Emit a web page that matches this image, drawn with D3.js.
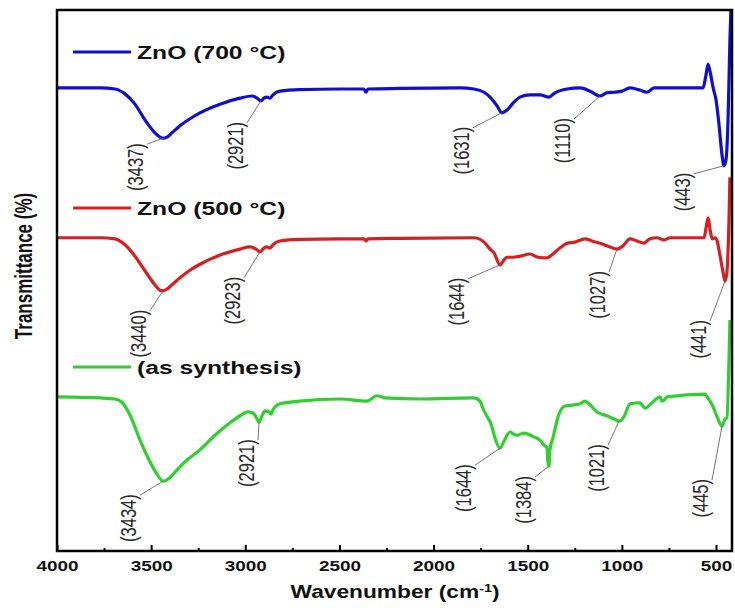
<!DOCTYPE html>
<html>
<head>
<meta charset="utf-8">
<script src="https://cdn.jsdelivr.net/npm/d3@7"></script>
<style>
  body { margin: 0; background: #fff; }
  svg { display: block; }
</style>
</head>
<body>
<svg id="chart" width="735" height="608"></svg>
<script>
// FTIR spectra, [wavenumber (cm-1), transmittance (offset, a.u.)]
var zno700 = [
  [4000, 85.6], [3772, 85.6], [3692, 85.4], [3639, 84.5], [3586, 82.6], [3533, 79.7],
  [3480, 77.3], [3453, 76.5], [3437, 76.3], [3416, 76.5], [3389, 77.3], [3347, 78.6],
  [3294, 79.9], [3241, 81.0], [3134, 82.6], [3028, 83.7], [2964, 84.1], [2938, 83.7],
  [2917, 83.2], [2901, 83.7], [2885, 83.9], [2869, 83.7], [2853, 84.3], [2816, 85.0],
  [2710, 85.3], [2497, 85.4], [2370, 85.4], [2359, 84.8], [2349, 85.4], [2178, 85.5],
  [1860, 85.6], [1785, 85.4], [1732, 84.8], [1700, 83.9], [1663, 82.3], [1637, 81.0],
  [1610, 81.5], [1578, 82.8], [1541, 83.9], [1488, 84.3], [1435, 84.3], [1387, 83.9],
  [1355, 84.7], [1291, 85.4], [1222, 85.6], [1169, 85.0], [1116, 84.1], [1079, 84.7],
  [1042, 84.8], [999, 85.0], [957, 85.6], [904, 85.2], [867, 84.8], [829, 85.6],
  [691, 85.6], [569, 85.6], [553, 88.0], [542, 90.0], [531, 88.5], [515, 85.6],
  [500, 83.4], [484, 78.8], [468, 73.2], [458, 71.2], [447, 72.3], [436, 79.7],
  [426, 94.5], [418, 103.0]
];

var zno500 = [
  [4000, 57.9], [3772, 57.9], [3692, 57.7], [3639, 56.6], [3586, 54.5], [3533, 51.8],
  [3480, 49.2], [3453, 48.2], [3437, 48.1], [3416, 48.4], [3389, 49.2], [3347, 50.5],
  [3294, 51.9], [3241, 53.0], [3134, 54.7], [3028, 55.8], [2975, 56.2], [2943, 55.8],
  [2922, 55.3], [2901, 56.0], [2885, 56.2], [2869, 56.0], [2853, 56.6], [2816, 57.3],
  [2710, 57.6], [2497, 57.7], [2370, 57.7], [2359, 57.3], [2349, 57.7], [2178, 57.8],
  [1785, 57.9], [1732, 57.1], [1700, 55.8], [1679, 55.1], [1647, 52.9], [1626, 53.8],
  [1610, 54.3], [1578, 54.3], [1541, 54.5], [1488, 54.9], [1446, 54.3], [1398, 54.2],
  [1366, 54.9], [1329, 56.0], [1291, 56.9], [1249, 57.1], [1196, 57.7], [1159, 57.3],
  [1116, 56.9], [1063, 56.2], [1026, 55.8], [994, 56.4], [957, 57.7], [920, 57.3],
  [883, 56.9], [851, 57.7], [813, 57.9], [776, 57.5], [744, 57.9], [563, 57.9],
  [553, 59.7], [542, 61.6], [531, 59.3], [520, 57.7], [505, 57.9], [494, 57.3],
  [479, 54.7], [463, 51.6], [452, 49.9], [442, 51.6], [431, 61.2], [426, 69.1]
];

var asSynth = [
  [4000, 28.5], [3772, 28.3], [3692, 28.1], [3655, 27.5], [3612, 25.1], [3559, 20.5],
  [3506, 16.5], [3469, 14.2], [3437, 12.9], [3410, 13.3], [3373, 14.6], [3320, 16.5],
  [3241, 18.7], [3161, 21.4], [3081, 23.7], [3028, 25.0], [2986, 25.7], [2959, 25.5],
  [2943, 24.8], [2927, 23.8], [2911, 25.0], [2895, 25.9], [2874, 25.7], [2863, 25.3],
  [2853, 26.1], [2816, 27.2], [2710, 27.7], [2497, 28.1], [2354, 27.7], [2301, 28.7],
  [2258, 28.3], [2072, 28.1], [1785, 28.3], [1754, 27.7], [1732, 25.9], [1711, 24.6],
  [1695, 23.5], [1674, 20.9], [1647, 19.0], [1626, 20.3], [1594, 22.0], [1573, 21.6],
  [1557, 21.4], [1520, 21.8], [1467, 21.1], [1435, 20.5], [1408, 19.4], [1398, 19.2],
  [1393, 16.5], [1387, 15.7], [1382, 18.7], [1366, 20.9], [1334, 25.3], [1302, 26.8],
  [1254, 27.0], [1222, 27.2], [1196, 27.7], [1169, 27.0], [1132, 25.7], [1079, 25.0],
  [1042, 24.4], [1015, 24.0], [989, 24.8], [957, 27.2], [904, 27.4], [877, 26.4],
  [840, 27.4], [797, 28.5], [787, 27.7], [776, 27.9], [760, 28.5], [558, 29.0],
  [547, 28.5], [520, 27.0], [494, 24.8], [468, 23.1], [452, 24.4], [442, 24.6],
  [431, 35.3], [426, 42.7]
];

var seriesNames = ["ZnO (700 °C)", "ZnO (500 °C)", "(as synthesis)"];
var seriesColors = ["#1010cc", "#d42020", "#30cf30"];
var seriesData = [zno700, zno500, asSynth];

// band labels per spectrum
var peaks700 = [3437, 2921, 1631, 1110, 443];
var peaks500 = [3440, 2923, 1644, 1027, 441];
var peaksAs = [3434, 2921, 1644, 1384, 1021, 445];

var majorTicks = [4000, 3500, 3000, 2500, 2000, 1500, 1000, 500];
var minorTicks = [3750, 3250, 2750, 2250, 1750, 1250, 750];

// layout: label offset (px) from the band minimum
var labelOffsets = [
  [[-28, 5], [-26, 21], [-41, 14], [-38, 22], [-42, 7]],
  [[-25, 19], [-28, 25], [-44, 13], [-20, 22], [-27, 39]],
  [[-35, 13], [-13, 17], [-37, 16], [-26, 10], [-23, 23], [-22, 53]]
];
var legendY = [52, 208, 367];
var stretch = 1.3; // source figure is horizontally stretched

var svg = d3.select("#chart");
var plotL = 57, plotR = 732, plotT = 10, plotB = 551;

var x = d3.scaleLinear().domain([4000, 415]).range([plotL, plotR]);
var y = d3.scaleLinear().domain([0, 100]).range([plotB, plotT]);

svg.append("defs").append("clipPath").attr("id", "clip")
  .append("rect")
  .attr("x", plotL).attr("y", plotT)
  .attr("width", plotR - plotL).attr("height", plotB - plotT);

var line = d3.line()
  .x(function (d) { return x(d[0]) })
  .y(function (d) { return y(d[1]) })
  .curve(d3.curveMonotoneX);

svg.append("g")
  .attr("clip-path", "url(#clip)")
  .selectAll("path")
  .data(seriesData)
  .enter()
  .append("path")
  .attr("d", line)
  .attr("fill", "none")
  .attr("stroke", function (d, i) { return seriesColors[i] })
  .attr("stroke-width", 3.2)
  .attr("stroke-linejoin", "round");

// band annotations
var peakLists = [peaks700, peaks500, peaksAs];
var notes = [];
peakLists.forEach(function (list, s) {
  list.forEach(function (wn, k) {
    var pts = seriesData[s].filter(function (d) { return Math.abs(d[0] - wn) <= 25 });
    var p = d3.least(pts, function (d) { return d[1] });
    var px = x(p[0]), py = y(p[1]);
    var off = labelOffsets[s][k];
    notes.push({ text: "(" + wn + ")", px: px, py: py, cx: px + off[0], ty: py + off[1] });
  });
});

var ann = svg.append("g");
ann.selectAll("line")
  .data(notes)
  .enter()
  .append("line")
  .attr("x1", function (d) { return d.px })
  .attr("y1", function (d) { return d.py })
  .attr("x2", function (d) { return d.cx + 12 })
  .attr("y2", function (d) { return d.ty + 1 })
  .attr("stroke", "#666")
  .attr("stroke-width", 0.9);

ann.selectAll("text")
  .data(notes)
  .enter()
  .append("text")
  .attr("transform", function (d) {
    return "translate(" + (d.cx + 8) + "," + d.ty + ") rotate(-90) scale(1,1.38)";
  })
  .attr("text-anchor", "end")
  .style("font-family", "'Liberation Sans', Arial, sans-serif")
  .style("font-size", "16.5px")
  .style("fill", "#2a2a2a")
  .text(function (d) { return d.text });

// legend
var leg = svg.append("g")
  .selectAll("g")
  .data(seriesNames)
  .enter()
  .append("g")
  .attr("transform", function (d, i) { return "translate(0," + legendY[i] + ")" });

leg.append("line")
  .attr("x1", 73).attr("x2", 131)
  .attr("stroke", function (d, i) { return seriesColors[i] })
  .attr("stroke-width", 3);

leg.append("text")
  .attr("transform", "translate(137,6.5) scale(" + stretch + ",1)")
  .style("font-family", "'Liberation Sans', Arial, sans-serif")
  .style("font-weight", "bold")
  .style("font-size", "19px")
  .style("fill", "#111")
  .text(function (d) { return d });

// x axis
var xAxis = svg.append("g")
  .attr("transform", "translate(0," + plotB + ")")
  .call(d3.axisBottom(x).tickValues(majorTicks).tickSize(-6).tickFormat(d3.format("d")));
xAxis.select(".domain").remove();
xAxis.selectAll(".tick line").attr("stroke", "#000").attr("stroke-width", 2);
xAxis.selectAll(".tick text")
  .attr("y", 20).attr("dy", 0)
  .attr("transform", "scale(1.35,1)")
  .style("font-family", "'Liberation Sans', Arial, sans-serif")
  .style("font-weight", "bold")
  .style("font-size", "14px")
  .style("fill", "#111");

var xMinor = svg.append("g")
  .attr("transform", "translate(0," + plotB + ")")
  .call(d3.axisBottom(x).tickValues(minorTicks).tickSize(-3).tickFormat(""));
xMinor.select(".domain").remove();
xMinor.selectAll(".tick line").attr("stroke", "#000").attr("stroke-width", 2);

// frame
svg.append("rect")
  .attr("x", plotL).attr("y", plotT)
  .attr("width", plotR - plotL).attr("height", plotB - plotT)
  .attr("fill", "none")
  .attr("stroke", "#000")
  .attr("stroke-width", 2.5);

// axis titles
var xt = svg.append("text")
  .attr("transform", "translate(395,598) scale(" + stretch + ",1)")
  .attr("text-anchor", "middle")
  .style("font-family", "'Liberation Sans', Arial, sans-serif")
  .style("font-weight", "bold")
  .style("font-size", "17.5px")
  .style("fill", "#111");
xt.append("tspan").text("Wavenumber (cm");
xt.append("tspan").attr("dy", -6).style("font-size", "11px").text("-1");
xt.append("tspan").attr("dy", 6).text(")");

svg.append("text")
  .attr("transform", "translate(32,266) rotate(-90) scale(1,1.45)")
  .attr("text-anchor", "middle")
  .style("font-family", "'Liberation Sans', Arial, sans-serif")
  .style("font-weight", "bold")
  .style("font-size", "17px")
  .style("fill", "#111")
  .text("Transmittance (%)");
</script>
</body>
</html>
